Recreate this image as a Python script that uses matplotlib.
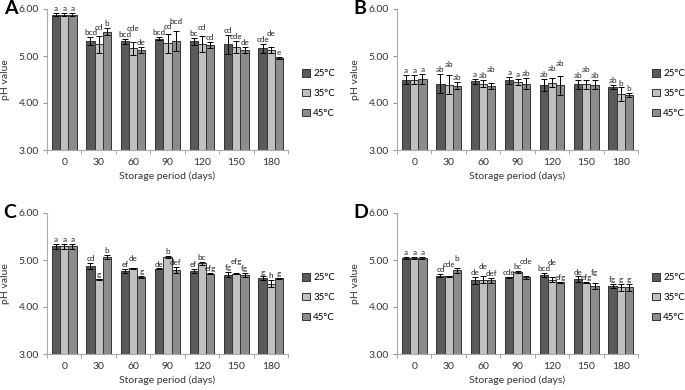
import numpy as np
import matplotlib
matplotlib.use("Agg")
import matplotlib.pyplot as plt
from matplotlib.patches import Patch

plt.rcParams['font.family'] = ['Lato', 'DejaVu Sans']

days = ['0', '30', '60', '90', '120', '150', '180']
temps = ['25°C', '35°C', '45°C']
colors = ['#5a5a5a', '#c0c0c0', '#8c8c8c']

# panel A
a_mean = [[5.88, 5.32, 5.31, 5.37, 5.31, 5.25, 5.16],
          [5.88, 5.25, 5.16, 5.27, 5.26, 5.19, 5.13],
          [5.88, 5.52, 5.13, 5.32, 5.23, 5.13, 4.96]]
a_err = [[0.03, 0.08, 0.06, 0.04, 0.08, 0.20, 0.10],
         [0.03, 0.18, 0.13, 0.20, 0.17, 0.13, 0.07],
         [0.03, 0.07, 0.07, 0.22, 0.07, 0.07, 0.02]]
a_lab = [['a', 'bcd', 'bcd', 'bcd', 'bc', 'cd', 'cde'],
         ['a', 'cd', 'cde', 'cd', 'cd', 'cde', 'de'],
         ['a', 'b', 'de', 'bcd', 'cd', 'de', 'e']]

# panel B
b_mean = [[4.50, 4.41, 4.46, 4.48, 4.38, 4.40, 4.34],
          [4.50, 4.39, 4.41, 4.45, 4.43, 4.40, 4.19],
          [4.51, 4.37, 4.36, 4.41, 4.38, 4.39, 4.17]]
b_err = [[0.09, 0.20, 0.06, 0.08, 0.13, 0.10, 0.05],
         [0.09, 0.20, 0.08, 0.06, 0.10, 0.10, 0.14],
         [0.10, 0.07, 0.07, 0.12, 0.20, 0.10, 0.05]]
b_lab = [['a', 'ab', 'a', 'a', 'ab', 'ab', 'ab'],
         ['a', 'ab', 'ab', 'a', 'ab', 'ab', 'b'],
         ['a', 'ab', 'ab', 'ab', 'ab', 'ab', 'b']]

# panel C
c_mean = [[5.29, 4.87, 4.77, 4.81, 4.76, 4.69, 4.61],
          [5.29, 4.59, 4.82, 5.06, 4.93, 4.71, 4.50],
          [5.29, 5.06, 4.64, 4.79, 4.71, 4.68, 4.61]]
c_err = [[0.06, 0.06, 0.04, 0.01, 0.04, 0.06, 0.04],
         [0.06, 0.01, 0.02, 0.02, 0.03, 0.01, 0.07],
         [0.06, 0.04, 0.03, 0.06, 0.01, 0.05, 0.01]]
c_lab = [['a', 'cd', 'ef', 'de', 'ef', 'fg', 'g'],
         ['a', 'g', 'de', 'b', 'bc', 'efg', 'h'],
         ['a', 'b', 'g', 'def', 'efg', 'fg', 'g']]

# panel D
d_mean = [[5.05, 4.67, 4.57, 4.63, 4.68, 4.59, 4.45],
          [5.05, 4.65, 4.58, 4.74, 4.58, 4.52, 4.42],
          [5.05, 4.78, 4.57, 4.63, 4.53, 4.45, 4.42]]
d_err = [[0.02, 0.03, 0.07, 0.01, 0.05, 0.06, 0.04],
         [0.02, 0.02, 0.07, 0.02, 0.05, 0.01, 0.07],
         [0.02, 0.06, 0.05, 0.03, 0.01, 0.07, 0.07]]
d_lab = [['a', 'cd', 'de', 'cde', 'bcd', 'de', 'fg'],
         ['a', 'cde', 'de', 'bc', 'de', 'efg', 'g'],
         ['a', 'b', 'def', 'cde', 'efg', 'fg', 'g']]

panels = [('A', a_mean, a_err, a_lab), ('B', b_mean, b_err, b_lab),
          ('C', c_mean, c_err, c_lab), ('D', d_mean, d_err, d_lab)]

W, H = 685, 390
fig = plt.figure(figsize=(W / 100, H / 100), dpi=100)

boxes = [(47, 9), (397, 9), (47, 213), (397, 213)]
aw, ah = 241, 141

x = np.arange(len(days))
bw = 0.24

for (name, mean, err, lab), (px, py) in zip(panels, boxes):
    ax = fig.add_axes([px / W, 1 - (py + ah) / H, aw / W, ah / H])
    for i in range(3):
        pos = x + (i - 1) * bw
        ax.bar(pos, mean[i], bw, color=colors[i], edgecolor='#333333',
               linewidth=0.7, zorder=2)
        ax.errorbar(pos, mean[i], yerr=err[i], fmt='none', ecolor='black',
                    elinewidth=0.7, capsize=2.2, capthick=0.7, zorder=3)

    # significance letters, nudged up when they would run into the left neighbour
    for j in range(len(days)):
        prev_y, prev_len = None, 0
        for i in range(3):
            y = mean[i][j] + err[i][j] + 0.02
            n = len(lab[i][j])
            if prev_y is not None and abs(y - prev_y) < 0.11 and prev_len + n > 3:
                y = prev_y + 0.12
            ax.text(x[j] + (i - 1) * bw, y, lab[i][j], ha='center', va='bottom',
                    fontsize=5.8, color='#222222')
            prev_y, prev_len = y, n

    ax.set_ylim(3, 6)
    ax.set_xlim(-0.5, len(days) - 0.5)
    ax.set_yticks([3, 4, 5, 6])
    ax.set_yticklabels(['3.00', '4.00', '5.00', '6.00'], fontsize=7.5, color='#333333')
    ax.set_xticks(x)
    ax.set_xticklabels(days, fontsize=7.5, color='#333333')
    ax.set_xticks(np.arange(-0.5, len(days)), minor=True)
    ax.tick_params(axis='x', which='major', length=0, pad=6)
    ax.tick_params(axis='x', which='minor', length=3, color='#999999')
    ax.tick_params(axis='y', length=3, color='#999999', pad=3)
    for s in ['top', 'right']:
        ax.spines[s].set_visible(False)
    ax.spines['left'].set_color('#aaaaaa')
    ax.spines['bottom'].set_color('#aaaaaa')
    ax.set_xlabel('Storage period (days)', fontsize=7.5, color='#333333', labelpad=3)
    ax.set_ylabel('pH value', fontsize=7.5, color='#333333', labelpad=6)
    ax.text(-0.18, 1.0, name, transform=ax.transAxes, fontsize=14,
            fontweight='bold', va='center', ha='left')
    handles = [Patch(facecolor=c, edgecolor='#333333', linewidth=0.7) for c in colors]
    ax.legend(handles, temps, loc='center left', bbox_to_anchor=(1.06, 0.4),
              borderaxespad=0, borderpad=0, frameon=False, fontsize=7,
              handlelength=0.8, handleheight=0.8, handletextpad=0.3,
              labelspacing=1.1)

fig.savefig('out.png', dpi=100)
